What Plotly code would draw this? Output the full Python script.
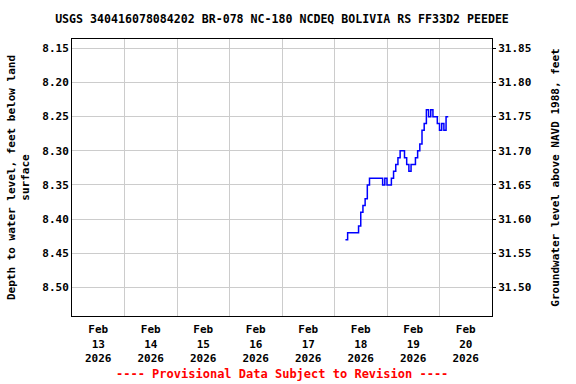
import pandas as pd
import plotly.graph_objects as go

title_text = "USGS 340416078084202 BR-078 NC-180 NCDEQ BOLIVIA RS FF33D2 PEEDEE"
left_title = "Depth to water level, feet below land<br>surface"
right_title = "Groundwater level above NAVD 1988, feet"
note_text = "---- Provisional Data Subject to Revision ----"

# Hourly readings starting 2026-02-18 05:00 (depth below land surface, ft)
series_start = "2026-02-18 05:00"
depth = [8.43, 8.42, 8.42, 8.42, 8.42, 8.42, 8.41, 8.39, 8.38, 8.37,
         8.35, 8.34, 8.34, 8.34, 8.34, 8.34, 8.34, 8.35, 8.34, 8.35,
         8.35, 8.34, 8.33, 8.32, 8.31, 8.30, 8.30, 8.31, 8.32, 8.33,
         8.32, 8.32, 8.31, 8.30, 8.29, 8.27, 8.26, 8.24, 8.25, 8.24,
         8.25, 8.25, 8.26, 8.27, 8.26, 8.27, 8.25, 8.25]
datum = 40.0  # land surface elevation, ft NAVD 1988
level = [round(datum - d, 2) for d in depth]

depth_ticks = [8.15, 8.20, 8.25, 8.30, 8.35, 8.40, 8.45, 8.50]
level_ticks = [31.50, 31.55, 31.60, 31.65, 31.70, 31.75, 31.80, 31.85]
depth_range = [8.5417, 8.1364]
level_range = [datum - depth_range[0], datum - depth_range[1]]

x_range = ["2026-02-13 00:00", "2026-02-21 00:00"]
label_days = pd.date_range("2026-02-13 12:00", periods=8, freq="D")
label_text = [f"{d:%b}<br>{d.day}<br>{d.year}" for d in label_days]
grid_days = pd.date_range("2026-02-14 00:00", periods=7, freq="D")

times = pd.date_range(series_start, periods=len(depth), freq="h")

FONT = "DejaVu Sans Mono"
GRID = "#cccccc"

fig = go.Figure()
fig.add_trace(go.Scatter(x=times, y=depth, mode="lines",
                         line=dict(color="#0000ff", width=1.5, shape="hv"),
                         showlegend=False, yaxis="y"))
fig.add_trace(go.Scatter(x=times, y=level, mode="lines",
                         line=dict(color="rgba(0,0,0,0)", width=0),
                         showlegend=False, hoverinfo="skip", yaxis="y2"))

fig.update_layout(
    width=576, height=384,
    margin=dict(l=72, r=84, t=39, b=68),
    paper_bgcolor="white", plot_bgcolor="white",
    font=dict(family=FONT, size=11, color="black", weight="bold"),
    title=dict(text=title_text, x=0.5, xref="paper", y=1 - 19 / 384,
               yref="container", yanchor="middle", xanchor="center",
               font=dict(family=FONT, size=11.6, color="black", weight="bold")),
    xaxis=dict(range=x_range, tickmode="array", tickvals=list(label_days),
               ticktext=label_text, showgrid=False, ticks="", automargin=False,
               showline=True, linecolor="black", linewidth=1, mirror=True,
               zeroline=False, tickfont=dict(size=11), ticklabelstandoff=3,
               minor=dict(tickmode="array", tickvals=list(grid_days),
                          showgrid=True, gridcolor=GRID, gridwidth=1, ticks="")),
    yaxis=dict(range=depth_range, tickmode="array", tickvals=depth_ticks,
               tickformat=".2f", showgrid=True, gridcolor=GRID, gridwidth=1,
               showline=True, linecolor="black", linewidth=1, mirror=True,
               zeroline=False, ticks="", automargin=False,
               title=dict(text=left_title, font=dict(size=11), standoff=10)),
    yaxis2=dict(range=level_range, overlaying="y", side="right",
                tickmode="array", tickvals=level_ticks, tickformat=".2f",
                showgrid=False, zeroline=False, ticks="outside", ticklen=3,
                tickcolor="black", automargin=False,
                title=dict(text=right_title, font=dict(size=11), standoff=20)),
    annotations=[dict(text=note_text, xref="paper", yref="paper", x=0.5,
                      y=(316 - 374) / 277, xanchor="center", yanchor="middle",
                      showarrow=False,
                      font=dict(family=FONT, size=12, color="red", weight="bold"))],
)

fig.write_html("out.html")
